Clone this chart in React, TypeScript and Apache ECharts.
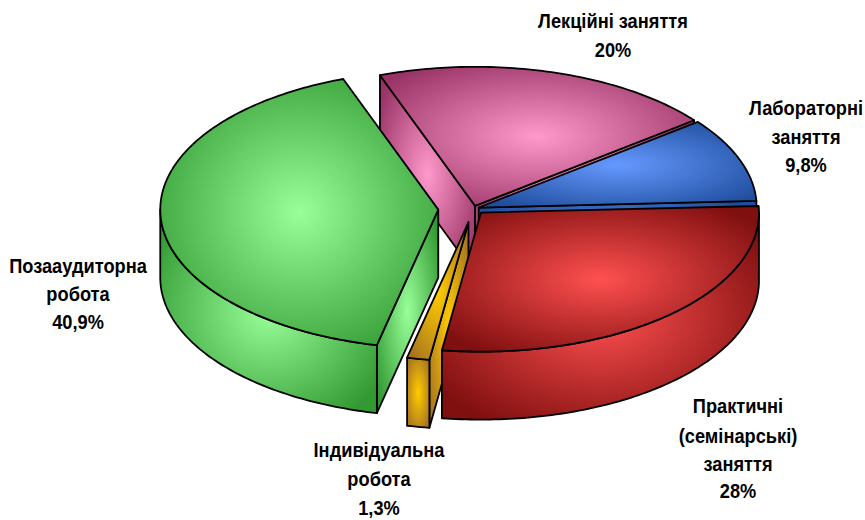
import React, { useEffect, useRef } from "react";
import * as echarts from "echarts";

const categories = ["Лекційні заняття", "Лабораторні заняття", "Практичні (семінарські) заняття", "Індивідуальна робота", "Позааудиторна робота"];
const shares = [20, 9.8, 28, 1.3, 40.9];
const explode = [0.02, 0.02, 0.04, 0.1, 0.127];
const paintRank = [0, 1, 4, 3, 2];
const faceColors = [
  ["#FF99CC", "#993366"],
  ["#6699FF", "#1F4E9E"],
  ["#FF5050", "#800F0F"],
  ["#FFCC00", "#A87420"],
  ["#99FF99", "#339933"],
];
const labelLines = [
  ["Лекційні заняття", "20%"],
  ["Лабораторні", "заняття", "9,8%"],
  ["Практичні", "(семінарські)", "заняття", "28%"],
  ["Індивідуальна", "робота", "1,3%"],
  ["Позааудиторна", "робота", "40,9%"],
];
const labelCenterX = [613, 806, 738, 379, 78];
const labelLineY = [
  [21, 50],
  [108, 137, 165],
  [406, 436, 464, 491],
  [450, 479, 508],
  [266, 294, 322],
];

const START = -20;
const CX = 473.5;
const CY = 208.5;
const RX = 278;
const RY = 139;
const DEPTH = 68;

const rad = (d: number) => (d * Math.PI) / 180;
const total = shares.reduce((a, b) => a + b, 0);

function renderSlice(params: any, api: any) {
  const i = params.dataIndex;
  let before = 0;
  for (let k = 0; k < i; k++) before += shares[k];
  const a = START + (before / total) * 360;
  const b = a + (api.value(0) / total) * 360;
  const mid = (a + b) / 2;
  const ox = CX + explode[i] * RX * Math.sin(rad(mid));
  const oy = CY - explode[i] * RY * Math.cos(rad(mid));
  const rim = (t: number, dz = 0) => [ox + RX * Math.sin(rad(t)), oy - RY * Math.cos(rad(t)) + dz];
  const arc = (t0: number, t1: number, dz = 0) => {
    const pts = [];
    const n = Math.max(2, Math.ceil(Math.abs(t1 - t0)));
    for (let k = 0; k <= n; k++) pts.push(rim(t0 + ((t1 - t0) * k) / n, dz));
    return pts;
  };
  const [bright, dark] = faceColors[i];
  const radial = (r: number) =>
    new echarts.graphic.RadialGradient(0.5, 0.5, r, [
      { offset: 0, color: bright },
      { offset: 1, color: dark },
    ]);
  const line = { stroke: "#000", lineWidth: 1.8, lineJoin: "round" };
  const rank = paintRank[i] * 10;
  const children: any[] = [];

  const cut = (t: number) => {
    children.push({
      type: "polygon",
      z2: rank + 1,
      shape: { points: [[ox, oy], rim(t), rim(t, DEPTH), [ox, oy + DEPTH]] },
      style: { fill: radial(0.62), ...line },
    });
  };
  const aN = ((a % 360) + 360) % 360;
  const bN = ((b % 360) + 360) % 360;
  // a cut wall shows only when it falls outside the slice's own top face
  if (aN >= 180) cut(a);
  if (bN > 0 && bN < 180) cut(b);
  // the outer wall: the part of the rim that faces the viewer
  const f0 = Math.max(aN, 90);
  const f1 = Math.min(aN + (b - a), 270);
  if (f1 > f0) {
    children.push({
      type: "polygon",
      z2: rank + 2,
      shape: { points: [...arc(f0, f1), ...arc(f1, f0, DEPTH)] },
      style: { fill: radial(0.62), ...line },
    });
  }
  children.push({
    type: "polygon",
    z2: rank + 3,
    shape: { points: [[ox, oy], ...arc(a, b)] },
    style: { fill: radial(0.62), ...line },
  });
  return { type: "group", children };
}

export default function App() {
  const ref = useRef<HTMLDivElement>(null);
  useEffect(() => {
    document.body.style.margin = "0";
    const chart = echarts.init(ref.current!, null, { renderer: "svg" });
    const texts: any[] = [];
    labelLines.forEach((lines, i) =>
      lines.forEach((t, j) =>
        texts.push({
          type: "text",
          x: labelCenterX[i],
          y: labelLineY[i][j],
          scaleX: 0.89,
          z: 10,
          style: {
            text: t,
            fill: "#000",
            font: 'bold 20.5px "Liberation Sans", Arial, sans-serif',
            align: "center",
            verticalAlign: "middle",
          },
        })
      )
    );
    texts.push({ type: "rect", z: 11, shape: { x: 0, y: 250, width: 10, height: 30 }, style: { fill: "#fff" } });
    chart.setOption({
      animation: false,
      backgroundColor: "#fff",
      graphic: { elements: texts },
      series: [
        {
          type: "custom",
          coordinateSystem: "none",
          renderItem: renderSlice,
          data: shares.map((v, i) => ({ name: categories[i], value: [v] })),
        },
      ],
    });
    return () => chart.dispose();
  }, []);
  return <div ref={ref} style={{ position: "absolute", left: 0, top: 0, width: 865, height: 520 }} />;
}
